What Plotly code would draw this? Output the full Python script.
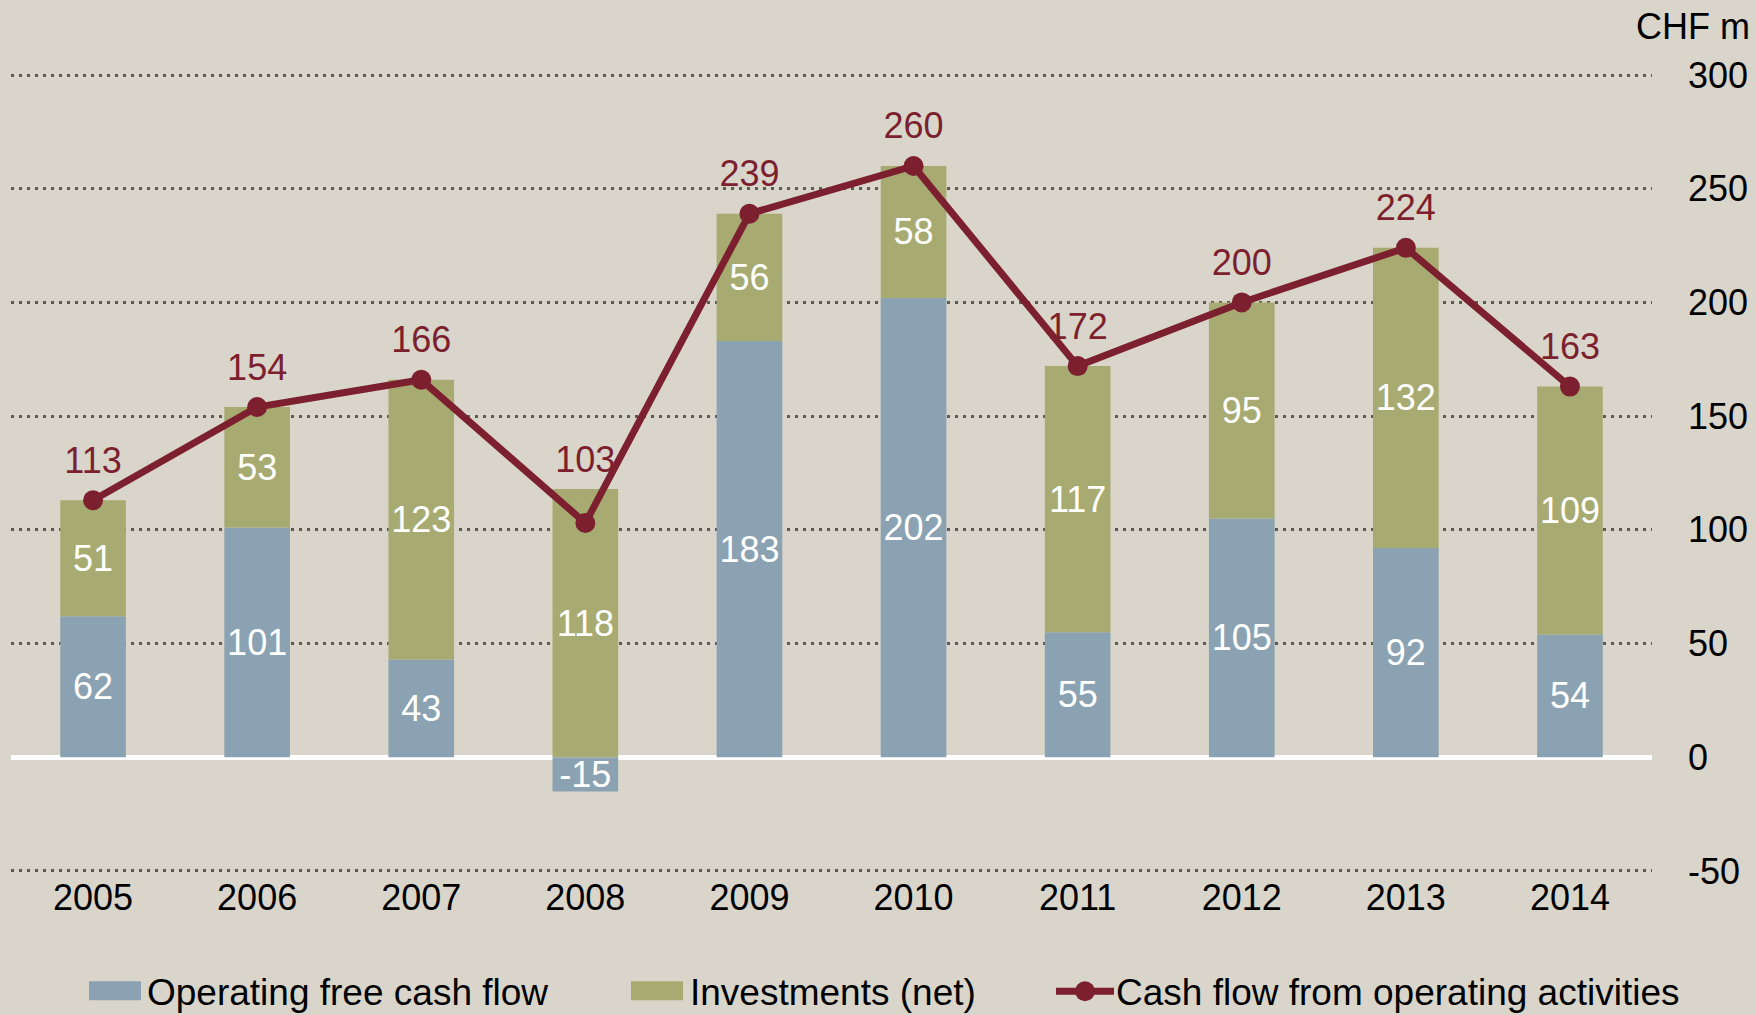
import plotly.graph_objects as go

years = ["2005", "2006", "2007", "2008", "2009", "2010", "2011", "2012", "2013", "2014"]
free_cash_flow = [62, 101, 43, -15, 183, 202, 55, 105, 92, 54]
investments = [51, 53, 123, 118, 56, 58, 117, 95, 132, 109]
operating_cf = [113, 154, 166, 103, 239, 260, 172, 200, 224, 163]
series_names = ["Operating free cash flow", "Investments (net)", "Cash flow from operating activities"]
y_ticks = [-50, 0, 50, 100, 150, 200, 250, 300]
unit_label = "CHF m"

BG = "#D9D5CA"
BLUE = "#8BA2B2"
GREEN = "#A7AB71"
RED = "#7C1F2E"
FONT = "Liberation Sans, Arial, sans-serif"
FS = 36

fig = go.Figure()
for vals, name, col in [(free_cash_flow, series_names[0], BLUE), (investments, series_names[1], GREEN)]:
    fig.add_trace(go.Bar(
        x=years, y=vals, name=name, marker=dict(color=col, line=dict(width=0)),
        text=[str(v) for v in vals], texttemplate="%{text}", textposition="inside",
        insidetextanchor="middle", textangle=0, constraintext="none",
        insidetextfont=dict(color="white", size=FS, family=FONT),
        width=0.4, showlegend=False, hoverinfo="skip"))
fig.add_trace(go.Scatter(
    x=years, y=operating_cf, name=series_names[2], mode="lines+markers",
    line=dict(color=RED, width=7), marker=dict(color=RED, size=20, line=dict(width=0)),
    showlegend=False, hoverinfo="skip"))

# labels for the line, placed above the higher of line value and positive stack top
pos_top = [max(a, 0) + max(b, 0) for a, b in zip(free_cash_flow, investments)]
label_y = [max(c, p) for c, p in zip(operating_cf, pos_top)]
gap_sizes = [28 if c >= p else 11 for c, p in zip(operating_cf, pos_top)]
fig.add_trace(go.Scatter(
    x=years, y=label_y, mode="markers+text", text=[str(v) for v in operating_cf],
    marker=dict(size=gap_sizes, color="rgba(0,0,0,0)", line=dict(width=0)),
    textposition="top center", textfont=dict(color=RED, size=FS, family=FONT),
    showlegend=False, hoverinfo="skip", cliponaxis=False))

fig.update_layout(
    width=1756, height=1015,
    margin=dict(l=11, r=104, t=74, b=143, autoexpand=False),
    paper_bgcolor=BG, plot_bgcolor=BG,
    barmode="relative", bargap=0.6,
    font=dict(family=FONT, size=FS, color="black"),
    showlegend=False,
    xaxis=dict(type="category", range=[-0.5, 9.5], showgrid=False, showline=False,
               ticks="", tickfont=dict(size=FS, color="black"), ticklabelstandoff=1,
               zeroline=False, automargin=False),
    yaxis=dict(side="right", range=[-50.45, 300.45], tickvals=y_ticks,
               ticktext=[str(t) for t in y_ticks],
               showgrid=True, gridcolor="#5A5A52", gridwidth=3, griddash="3px,5px",
               zeroline=True, zerolinecolor="white", zerolinewidth=5,
               showline=False, ticks="", ticklabelstandoff=35, automargin=False,
               tickfont=dict(size=FS, color="black")),
)

fig.add_annotation(text=unit_label, xref="paper", yref="paper", x=(1752 - 11) / 1641,
                   y=(871 - 28) / 796, xanchor="right", yanchor="middle", showarrow=False,
                   font=dict(size=FS, color="black", family=FONT))

# custom legend
def px_x(p):
    return (p - 11) / 1641

def px_y(p):
    return (871 - p) / 796

leg_cy = 990
for (x0, x1, col) in [(89, 141, BLUE), (631, 683, GREEN)]:
    fig.add_shape(type="rect", xref="paper", yref="paper", x0=px_x(x0), x1=px_x(x1),
                  y0=px_y(leg_cy + 9), y1=px_y(leg_cy - 10), fillcolor=col, line=dict(width=0))
fig.add_shape(type="line", xref="paper", yref="paper", x0=px_x(1056), x1=px_x(1114),
              y0=px_y(leg_cy), y1=px_y(leg_cy), line=dict(color=RED, width=7))
fig.add_shape(type="circle", xref="paper", yref="paper", xsizemode="pixel", ysizemode="pixel",
              xanchor=px_x(1085), yanchor=px_y(leg_cy), x0=-10, x1=10, y0=-10, y1=10,
              fillcolor=RED, line=dict(width=0))
for name, xs in zip(series_names, [145, 688, 1114]):
    fig.add_annotation(text=name, xref="paper", yref="paper", x=px_x(xs), y=px_y(leg_cy + 1),
                       xanchor="left", yanchor="middle", showarrow=False,
                       font=dict(size=37, color="black", family=FONT))

fig.write_html("out.html", config={"displayModeBar": False},
               post_script="document.body.style.margin='0';document.body.style.overflow='hidden';")
